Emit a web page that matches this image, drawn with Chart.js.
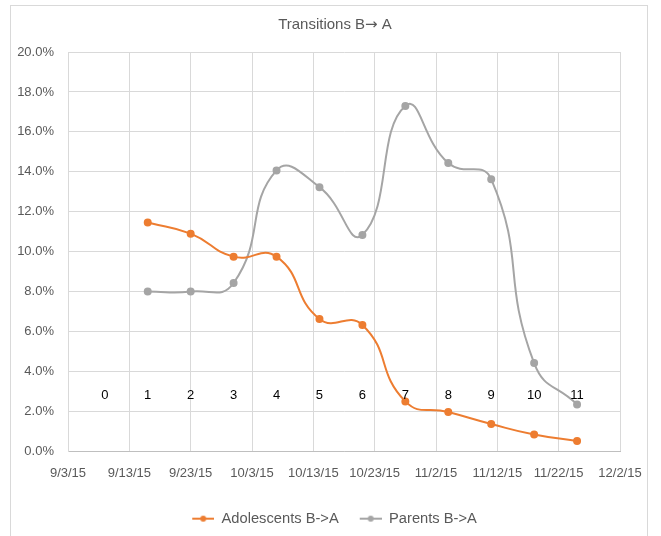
<!DOCTYPE html>
<html>
<head>
<meta charset="utf-8">
<script src="https://cdn.jsdelivr.net/npm/chart.js@4/dist/chart.umd.min.js"></script>
<style>
    html, body { margin: 0; padding: 0; background: #fff; }
</style>
</head>
<body>
<canvas id="transChart" width="661" height="536"></canvas>
<script>
// data
const axisStart = '2015-09-03';
const axisEnd = '2015-12-02';
const surveyDates = ['2015-09-16', '2015-09-23', '2015-09-30', '2015-10-07', '2015-10-14', '2015-10-21',
    '2015-10-28', '2015-11-04', '2015-11-11', '2015-11-18', '2015-11-25'];
const adolescents = [11.46, 10.9, 9.75, 9.75, 6.63, 6.33, 2.5, 1.97, 1.37, 0.84, 0.52];
const parents = [8.0, 8.0, 8.43, 14.07, 13.23, 10.84, 17.3, 14.44, 13.63, 4.42, 2.35];
const weekDates = ['2015-09-09', '2015-09-16', '2015-09-23', '2015-09-30', '2015-10-07', '2015-10-14',
    '2015-10-21', '2015-10-28', '2015-11-04', '2015-11-11', '2015-11-18', '2015-11-25'];
const weekNumbers = [0, 1, 2, 3, 4, 5, 6, 7, 8, 9, 10, 11];
const weekLabelLevel = 2.8;
const titleParts = ['Transitions B', '\u2192', ' A'];

const ORANGE = '#ED7D31';
const GREY = '#A5A5A5';
const TEXT = '#595959';
const GRID = '#D9D9D9';
const FONT = "'Liberation Sans', Arial, sans-serif";
const DAY = 86400000;

let toDay = function (s) {
    return (Date.parse(s) - Date.parse(axisStart)) / DAY;
};
let dayLabel = function (v) {
    let d = new Date(Date.parse(axisStart) + v * DAY);
    return (d.getUTCMonth() + 1) + '/' + d.getUTCDate() + '/' + String(d.getUTCFullYear()).slice(2);
};

// line-with-dot legend symbol, with a transparent margin on the left as item spacing
let legendMarker = function (color) {
    let c = document.createElement('canvas');
    c.width = 33;
    c.height = 8;
    let ctx = c.getContext('2d');
    ctx.strokeStyle = color;
    ctx.lineWidth = 2;
    ctx.beginPath();
    ctx.moveTo(11, 4);
    ctx.lineTo(33, 4);
    ctx.stroke();
    ctx.fillStyle = color;
    ctx.beginPath();
    ctx.arc(22, 4, 3, 0, Math.PI * 2);
    ctx.fill();
    return c;
};
const markers = [legendMarker(ORANGE), legendMarker(GREY)];

// outer frame + title, and legend nudged so it centres like the original
const frame = {
    id: 'frame',
    afterLayout(chart) {
        chart.legend.left = 38;
    },
    beforeDraw(chart) {
        let ctx = chart.ctx;
        ctx.save();
        ctx.fillStyle = '#fff';
        ctx.fillRect(0, 0, chart.width, chart.height);
        ctx.strokeStyle = GRID;
        ctx.lineWidth = 1;
        ctx.strokeRect(10.5, 5.5, 637, 540);
        ctx.restore();
    },
    afterDraw(chart) {
        let ctx = chart.ctx;
        let fonts = ['15px ' + FONT, "15px 'DejaVu Sans', sans-serif", '15px ' + FONT];
        ctx.save();
        ctx.fillStyle = TEXT;
        ctx.textBaseline = 'middle';
        ctx.textAlign = 'left';
        let widths = titleParts.map((t, i) => { ctx.font = fonts[i]; return ctx.measureText(t).width; });
        let x = 335 - widths.reduce((a, b) => a + b, 0) / 2;
        titleParts.forEach(function (t, i) {
            ctx.font = fonts[i];
            ctx.fillText(t, x, 25);
            x += widths[i];
        });
        ctx.restore();
    },
};

const weekText = {
    id: 'weekText',
    afterDatasetsDraw(chart) {
        let ctx = chart.ctx;
        let meta = chart.getDatasetMeta(2);
        ctx.save();
        ctx.font = '13px ' + FONT;
        ctx.fillStyle = '#000';
        ctx.textAlign = 'center';
        ctx.textBaseline = 'middle';
        meta.data.forEach(function (pt, i) {
            ctx.fillText(String(weekNumbers[i]), pt.x, pt.y);
        });
        ctx.restore();
    },
};

let lineSet = function (label, values, color) {
    return {
        label: label,
        data: surveyDates.map((d, i) => ({ x: toDay(d), y: values[i] })),
        borderColor: color,
        backgroundColor: color,
        borderWidth: 2,
        pointRadius: 3,
        pointHoverRadius: 3,
        tension: 0.5,
    };
};

let config = {
    type: 'line',
    data: {
        datasets: [
            lineSet('Adolescents B->A', adolescents, ORANGE),
            lineSet('Parents B->A', parents, GREY),
            {
                label: 'week',
                data: weekDates.map(d => ({ x: toDay(d), y: weekLabelLevel })),
                showLine: false,
                pointRadius: 0,
                pointHoverRadius: 0,
            },
        ],
    },
    options: {
        responsive: false,
        animation: false,
        layout: { padding: { left: 10, right: 41, top: 52, bottom: 0 } },
        scales: {
            x: {
                type: 'linear',
                min: 0,
                max: toDay(axisEnd),
                grid: { color: GRID, drawTicks: false },
                border: { color: '#BFBFBF' },
                afterFit: s => { s.height = 50; },
                ticks: {
                    stepSize: 10,
                    padding: 14,
                    color: TEXT,
                    font: { family: FONT, size: 13 },
                    maxRotation: 0,
                    callback: v => dayLabel(v),
                },
            },
            y: {
                min: 0,
                max: 20,
                grid: { color: GRID, drawTicks: false },
                border: { color: GRID },
                afterFit: s => { s.width = 58; },
                ticks: {
                    stepSize: 2,
                    padding: 14,
                    color: TEXT,
                    font: { family: FONT, size: 13 },
                    callback: v => v.toFixed(1) + '%',
                },
            },
        },
        plugins: {
            title: { display: false },
            legend: {
                position: 'bottom',
                labels: {
                    color: TEXT,
                    font: { family: FONT, size: 14.7 },
                    usePointStyle: true,
                    pointStyleWidth: 33,
                    padding: 10,
                    filter: item => item.datasetIndex < 2,
                    generateLabels: function (chart) {
                        let items = Chart.defaults.plugins.legend.labels.generateLabels(chart);
                        items.forEach(function (it) {
                            if (it.datasetIndex < 2) it.pointStyle = markers[it.datasetIndex];
                        });
                        return items;
                    },
                },
            },
            tooltip: { enabled: false },
        },
    },
    plugins: [frame, weekText],
};

let transChart = new Chart(document.getElementById('transChart'), config);
</script>
</body>
</html>
